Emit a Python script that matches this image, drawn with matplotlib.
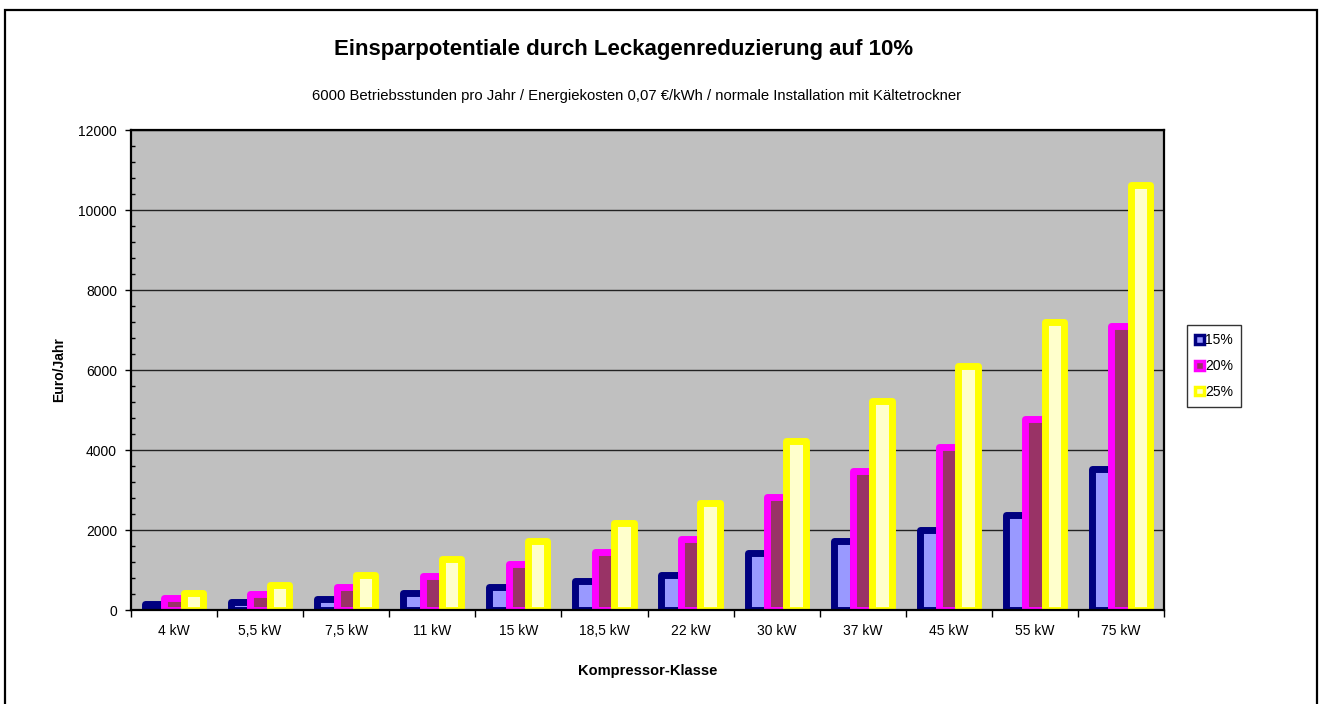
import matplotlib
matplotlib.use("Agg")
import matplotlib.pyplot as plt
from matplotlib.patches import Patch, Rectangle
from matplotlib.ticker import MultipleLocator, FixedLocator, NullFormatter
import numpy as np

plt.rcParams['font.family'] = ['Liberation Sans', 'DejaVu Sans']

categories = ['4 kW', '5,5 kW', '7,5 kW', '11 kW', '15 kW', '18,5 kW',
              '22 kW', '30 kW', '37 kW', '45 kW', '55 kW', '75 kW']
series_names = ['15%', '20%', '25%']
vals_15 = [150, 210, 285, 420, 570, 720, 885, 1420, 1735, 2010, 2375, 3525]
vals_20 = [290, 410, 585, 850, 1140, 1450, 1775, 2815, 3485, 4065, 4775, 7090]
vals_25 = [435, 615, 875, 1275, 1715, 2185, 2665, 4235, 5225, 6090, 7190, 10630]

edge_cols = ['#000080', '#FF00FF', '#FFFF00']
face_cols = ['#9999FF', '#993366', '#FFFFCC']

W, H = 1322, 704
fig = plt.figure(figsize=(W / 100, H / 100), dpi=100)

# outer chart frame (bottom edge runs off the image)
fig.add_artist(Rectangle((5 / W, -0.01), (1317 - 5) / W, 1.01 - 10 / H,
                         transform=fig.transFigure, fill=False,
                         edgecolor='black', linewidth=1.6))

ax = fig.add_axes([131 / W, (H - 610) / H, (1164 - 131) / W, 480 / H])
ax.set_facecolor('#C0C0C0')

x = np.arange(len(categories))
bw = 0.225
for i, vals in enumerate([vals_15, vals_20, vals_25]):
    ax.bar(x + (i - 1) * bw, vals, width=bw, color=face_cols[i],
           edgecolor=edge_cols[i], linewidth=5.0, label=series_names[i],
           zorder=3 + i, joinstyle='round')

ax.set_xlim(-0.5, len(categories) - 0.5)
ax.set_ylim(0, 12000)
ax.yaxis.set_major_locator(MultipleLocator(2000))
ax.yaxis.set_minor_locator(MultipleLocator(400))
ax.grid(axis='y', which='major', color='#222222', linewidth=1.0, zorder=1)
ax.set_axisbelow(True)

ax.xaxis.set_major_locator(FixedLocator(np.arange(-0.5, len(categories), 1)))
ax.xaxis.set_major_formatter(NullFormatter())
ax.xaxis.set_minor_locator(FixedLocator(x))
ax.set_xticklabels(categories, minor=True)
ax.tick_params(axis='x', which='major', direction='out', length=5, width=1)
ax.tick_params(axis='x', which='minor', length=0, pad=10, labelsize=10)
ax.tick_params(axis='y', which='major', direction='out', length=4, width=1,
               labelsize=10, pad=6)
ax.tick_params(axis='y', which='minor', direction='in', length=3, width=1)

for s in ax.spines.values():
    s.set_linewidth(1.6)
    s.set_color('black')
    s.set_zorder(10)

ax.set_xlabel('Kompressor-Klasse', fontsize=10.5, fontweight='bold', labelpad=19)
ax.set_ylabel('Euro/Jahr', fontsize=10, fontweight='bold', labelpad=9)

fig.text(624 / W, 1 - 50 / H, 'Einsparpotentiale durch Leckagenreduzierung auf 10%',
         ha='center', va='center', fontsize=16, fontweight='bold')
fig.text(637 / W, 1 - 96 / H,
         '6000 Betriebsstunden pro Jahr / Energiekosten 0,07 €/kWh / normale Installation mit Kältetrockner',
         ha='center', va='center', fontsize=10.7)

handles = [Patch(facecolor=face_cols[i], edgecolor=edge_cols[i], linewidth=2.5)
           for i in range(3)]
leg = fig.legend(handles, series_names, loc='upper left',
                 bbox_to_anchor=(1187 / W, 1 - 325 / H), fontsize=10,
                 frameon=True, fancybox=False, edgecolor='black',
                 handlelength=0.6, handleheight=0.6, handletextpad=0.1,
                 labelspacing=0.85, borderpad=0.6, borderaxespad=0)
leg.get_frame().set_linewidth(1.0)

fig.savefig('out.png', dpi=100)
